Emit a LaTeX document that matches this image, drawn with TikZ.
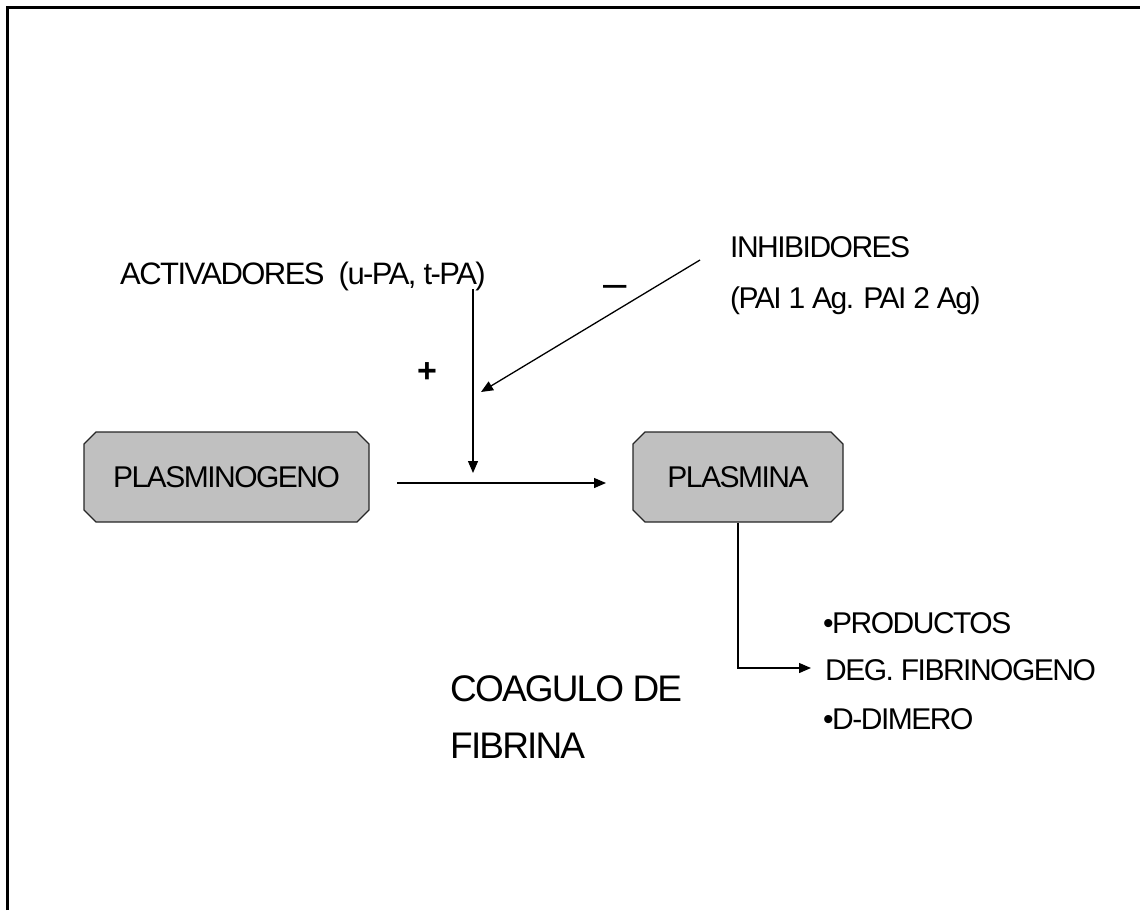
\documentclass[tikz,border=0pt]{standalone}
\usepackage{fontspec}
\setmainfont{Liberation Sans}[LetterSpace=-5]
\usetikzlibrary{shapes.misc,arrows.meta}
\definecolor{boxgray}{RGB}{192,192,192}
\begin{document}
\begin{tikzpicture}[x=1pt,y=-1pt,
  box/.style={chamfered rectangle, chamfered rectangle xsep=6pt, chamfered rectangle ysep=6pt,
    draw=black!85, line width=1.3pt, fill=boxgray, inner sep=0pt,
    font=\fontsize{30}{36}\selectfont},
  lbl/.style={anchor=base west, inner sep=0pt, font=\fontsize{30}{36}\selectfont},
  big/.style={anchor=base west, inner sep=0pt, font=\fontsize{37}{44}\selectfont},
  arr/.style={line width=1.3pt, -{Triangle[length=12pt,width=10pt]}},
  frameline/.style={line width=2.5pt}]
\useasboundingbox (0,0) rectangle (1140,910);
% frame (top and left sides only)
\draw[frameline] (7.3,910) -- (7.3,7.3) -- (1140,7.3);
% boxes
\node[box, minimum width=285pt, minimum height=90pt] (pg) at (226.5,477) {PLASMINOGENO};
\node[box, minimum width=210pt, minimum height=90pt] (pm) at (738,477) {PLASMINA};
% labels
\node[lbl, font=\fontsize{31}{36}\selectfont] (act) at (120,284) {ACTIVADORES~~(u-PA, t-PA)};
\node[lbl] (inh1) at (730,257) {INHIBIDORES};
\node[lbl] (inh2) at (730,308) {(PAI 1 Ag. PAI 2 Ag)};
\node[inner sep=0pt, font=\bfseries\fontsize{34}{40}\selectfont] (plus) at (427,373) {+};
\node[anchor=base, inner sep=0pt, font=\fontsize{42}{46}\selectfont] (minus) at (615,297) {–};
\node[big] (coag1) at (450,701) {COAGULO DE};
\node[big] (coag2) at (450,758) {FIBRINA};
\node[lbl] (prod1) at (823,633) {•PRODUCTOS};
\node[lbl] (prod2) at (825,680) {DEG. FIBRINOGENO};
\node[lbl] (prod3) at (823,729) {•D-DIMERO};
% connector end points
\coordinate (hs) at (397,483);
\coordinate (he) at (606,483);
\coordinate (vs) at (473,289);
\coordinate (ve) at (473,473);
\coordinate (ds) at (700,260);
\coordinate (de) at (481,392);
\coordinate (ee) at (811,668);
% connectors
\draw[arr] (hs) -- (he);
\draw[arr] (vs) -- (ve);
\draw[arr] (ds) -- (de);
\draw[arr] (pm.south) |- (ee);
\end{tikzpicture}
\end{document}
